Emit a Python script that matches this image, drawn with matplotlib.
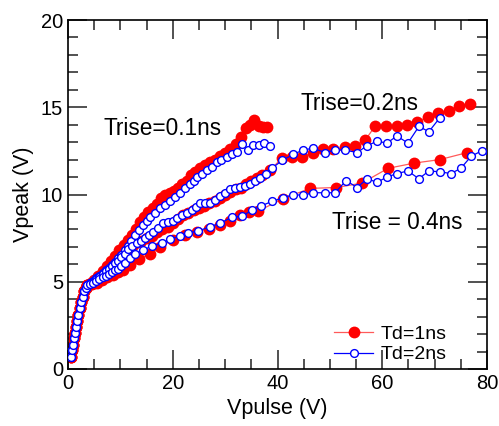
import matplotlib
matplotlib.use("Agg")
import matplotlib.pyplot as plt
from matplotlib.ticker import MultipleLocator

plt.rcParams['font.family'] = ['Liberation Sans', 'DejaVu Sans']

# common steep start
x_start = [0.5, 0.7, 0.9, 1.1, 1.3, 1.5, 1.7, 1.9, 2.2, 2.5, 2.8, 3.1, 3.4, 3.6]
y_start = [0.7, 1.1, 1.4, 1.75, 2.05, 2.4, 2.75, 3.1, 3.5, 3.85, 4.15, 4.45, 4.65, 4.8]

# Td = 1 ns (red), Trise = 0.1 / 0.2 / 0.4 ns
r1_x = x_start + [4.3, 5.0, 5.8, 6.6, 7.4, 8.2, 9.0, 9.8, 10.6, 11.4, 12.2, 13.0, 13.7, 14.5, 15.3,
                  16.2, 17.0, 17.8, 18.6, 19.4, 20.2, 21.0, 21.8, 22.7, 23.5, 24.3, 25.2, 26.1, 27.1,
                  28.0, 29.0, 29.9, 30.9, 32.0, 33.0, 34.0, 34.8, 35.6, 36.4, 37.3, 38.0]
r1_y = y_start + [4.9, 5.1, 5.35, 5.6, 5.9, 6.2, 6.45, 6.8, 7.1, 7.4, 7.7, 8.0, 8.4, 8.7, 9.0,
                  9.25, 9.45, 9.8, 9.95, 10.1, 10.2, 10.4, 10.6, 10.8, 11.1, 11.3, 11.5, 11.7, 11.85,
                  12.0, 12.2, 12.4, 12.6, 12.9, 13.3, 13.8, 14.0, 14.25, 13.95, 13.85, 13.85]

r2_x = x_start + [4.4, 5.2, 6.0, 6.8, 7.6, 8.4, 9.2, 10.0, 10.8, 11.6, 12.4, 13.2, 14.0, 15.0, 16.0,
                  17.0, 18.0, 19.0, 20.0, 21.0, 22.0, 23.0, 24.0, 25.0, 26.0, 27.0, 28.0, 29.0, 30.0,
                  31.0, 32.0, 33.0, 34.0, 35.0, 36.0, 37.0, 38.6, 40.9, 42.8, 44.7, 46.8, 48.7, 50.6,
                  52.9, 54.8, 56.7, 58.6, 60.7, 62.8, 64.7, 66.6, 68.7, 70.6, 72.7, 74.7, 76.8]
r2_y = y_start + [4.85, 5.0, 5.2, 5.45, 5.65, 5.85, 6.1, 6.35, 6.6, 6.9, 7.1, 7.25, 7.35, 7.5, 7.65,
                  7.85, 8.0, 8.15, 8.35, 8.6, 8.8, 8.95, 9.1, 9.25, 9.35, 9.5, 9.65, 9.8, 10.0,
                  10.15, 10.3, 10.4, 10.6, 10.8, 10.95, 11.1, 11.4, 12.1, 12.15, 12.15, 12.4, 12.6, 12.6,
                  12.7, 12.8, 13.1, 13.9, 13.9, 13.9, 14.0, 14.15, 14.45, 14.65, 14.8, 15.1, 15.2]

r3_x = x_start + [4.5, 5.5, 6.5, 7.5, 8.5, 9.5, 10.5, 11.8, 13.5, 15.7, 17.6, 20.0, 22.3, 24.6,
                  27.0, 29.0, 31.0, 32.8, 34.5, 36.3, 41.0, 46.2, 51.2, 56.1, 61.1, 66.1, 71.0, 76.2]
r3_y = y_start + [4.85, 4.95, 5.1, 5.25, 5.4, 5.55, 5.7, 5.95, 6.3, 6.6, 7.0, 7.4, 7.7, 7.85,
                  8.05, 8.25, 8.5, 8.8, 9.0, 9.05, 9.75, 10.35, 10.4, 10.65, 11.5, 11.8, 12.0, 12.4]

# Td = 2 ns (blue)
b1_x = x_start + [4.2, 4.8, 5.4, 6.0, 6.6, 7.2, 7.8, 8.4, 9.0, 9.6, 10.2, 10.8, 11.4, 12.0, 12.8,
                  13.6, 14.3, 15.0, 15.7, 16.6, 17.6, 18.5, 19.5, 20.4, 21.4, 22.4, 23.3, 24.0, 24.6,
                  25.5, 26.5, 27.4, 28.4, 29.3, 30.3, 31.3, 32.3, 33.2, 34.4, 35.4, 36.5, 37.5, 38.5]
b1_y = y_start + [4.9, 5.05, 5.2, 5.35, 5.5, 5.65, 5.8, 5.95, 6.15, 6.35, 6.55, 6.8, 7.05, 7.35, 7.7,
                  7.95, 8.25, 8.5, 8.7, 8.95, 9.2, 9.4, 9.6, 9.85, 10.1, 10.35, 10.6, 10.8, 11.0,
                  11.2, 11.4, 11.6, 11.85, 12.0, 12.15, 12.3, 12.45, 12.9, 12.55, 12.85, 12.85, 12.95, 12.8]

b2_x = x_start + [4.2, 4.8, 5.4, 6.0, 6.6, 7.2, 7.8, 8.4, 9.0, 9.6, 10.2, 10.8, 11.4, 12.2, 13.2,
                  14.0, 14.7, 15.5, 16.2, 17.2, 18.1, 19.0, 20.0, 20.9, 21.8, 22.8, 23.7, 24.5, 25.2,
                  26.2, 27.1, 28.0, 29.0, 30.0, 30.9, 31.9, 32.8, 33.8, 34.7, 35.7, 36.7, 37.8, 38.9,
                  40.9, 43.0, 44.9, 46.8, 49.1, 51.0, 52.9, 55.2, 57.1, 59.0, 60.9, 62.8, 64.9, 67.0,
                  68.9, 71.0]
b2_y = y_start + [4.9, 5.0, 5.15, 5.3, 5.45, 5.6, 5.75, 5.9, 6.05, 6.2, 6.4, 6.6, 6.85, 7.05, 7.2,
                  7.35, 7.5, 7.7, 7.85, 8.1, 8.35, 8.45, 8.5, 8.65, 8.8, 8.95, 9.1, 9.3, 9.5,
                  9.5, 9.5, 9.7, 9.9, 10.1, 10.3, 10.4, 10.45, 10.5, 10.6, 10.8, 10.95, 11.2, 11.5,
                  11.95, 12.3, 12.55, 12.65, 12.4, 12.55, 12.55, 12.4, 12.8, 13.05, 12.95, 13.35, 12.95, 13.9,
                  13.6, 14.4]

b3_x = x_start + [4.2, 4.8, 5.4, 6.0, 6.6, 7.2, 7.8, 8.4, 9.0, 9.6, 10.2, 10.8, 11.8, 12.8, 14.3,
                  16.0, 17.9, 19.5, 21.4, 22.9, 24.8, 27.1, 29.0, 31.3, 33.2, 35.1, 36.9, 38.9, 41.0,
                  43.0, 44.9, 46.8, 49.1, 51.0, 53.1, 55.2, 57.1, 59.0, 60.9, 62.8, 64.9, 67.0, 68.9,
                  71.0, 73.1, 75.0, 77.0, 79.0, 81.0]
b3_y = y_start + [4.85, 4.95, 5.05, 5.15, 5.25, 5.35, 5.45, 5.55, 5.65, 5.75, 5.9, 6.05, 6.35, 6.6, 6.8,
                  7.05, 7.2, 7.45, 7.6, 7.8, 7.9, 8.15, 8.35, 8.7, 8.75, 9.1, 9.35, 9.6, 9.8,
                  10.0, 9.95, 10.1, 10.1, 10.1, 10.8, 10.4, 10.9, 10.7, 11.0, 11.2, 11.35, 10.9, 11.35,
                  11.3, 11.2, 11.5, 12.2, 12.5, 12.1]

labels = ["Td=1ns", "Td=2ns"]
annotations = [("Trise=0.1ns", 6.7, 13.8), ("Trise=0.2ns", 44.3, 15.2), ("Trise = 0.4ns", 50.4, 8.4)]

fig = plt.figure(figsize=(4.99, 4.26), dpi=100)
ax = fig.add_axes([68/499, 1-369/426, (487-68)/499, (369-20)/426])

red_kw = dict(color='#ff5a5a', lw=0.9, marker='o', ms=8.5, mfc='red', mec='red', mew=0)
blue_kw = dict(color='blue', lw=0.9, marker='o', ms=5.6, mfc='white', mec='blue', mew=1.0)

for i, (xx, yy) in enumerate([(r1_x, r1_y), (r2_x, r2_y), (r3_x, r3_y)]):
    ax.plot(xx, yy, label=labels[0] if i == 0 else None, zorder=2, **red_kw)
for i, (xx, yy) in enumerate([(b1_x, b1_y), (b2_x, b2_y), (b3_x, b3_y)]):
    ax.plot(xx, yy, label=labels[1] if i == 0 else None, zorder=3, **blue_kw)

for txt, tx, ty in annotations:
    ax.text(tx, ty, txt, fontsize=16.3, ha='left', va='center')

ax.set_xlim(0, 80)
ax.set_ylim(0, 20)
ax.xaxis.set_major_locator(MultipleLocator(20))
ax.xaxis.set_minor_locator(MultipleLocator(5))
ax.yaxis.set_major_locator(MultipleLocator(5))
ax.yaxis.set_minor_locator(MultipleLocator(1))
ax.tick_params(which='both', direction='in', top=True, right=True, labelsize=14.5, width=1.1, color='#222222')
ax.tick_params(which='major', length=14)
ax.tick_params(which='minor', length=7)
for s in ax.spines.values():
    s.set_linewidth(1.2)

ax.set_xlabel("Vpulse (V)", fontsize=15.5, labelpad=4)
ax.set_ylabel("Vpeak (V)", fontsize=15.5, labelpad=5)

ax.legend(loc='lower left', bbox_to_anchor=(0.603, -0.023), frameon=False, fontsize=14,
          handlelength=2.0, handletextpad=0.4, labelspacing=0.15, borderpad=0.2)

fig.savefig("out.png", dpi=100)
